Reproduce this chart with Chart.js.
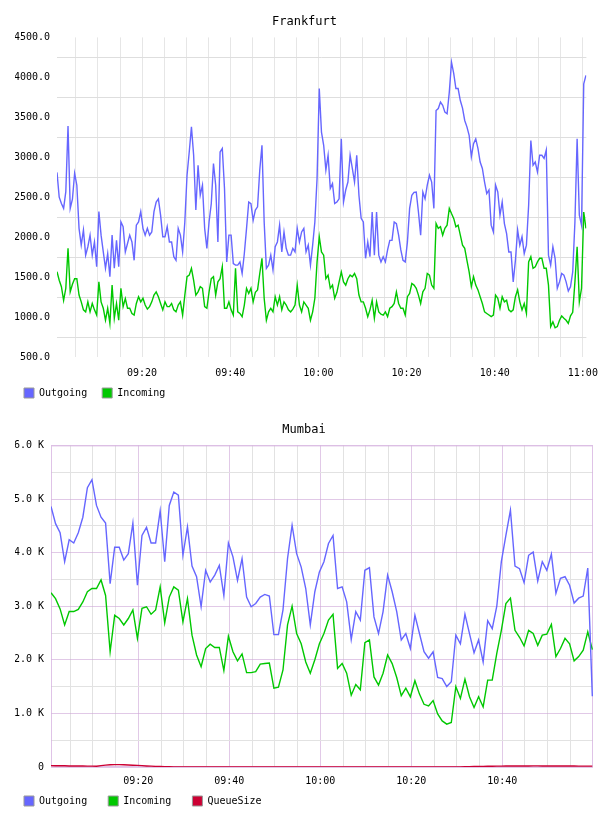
<!DOCTYPE html>
<html>
<head>
<meta charset="utf-8">
<script src="https://cdn.jsdelivr.net/npm/chart.js@4.4.0/dist/chart.umd.min.js"></script>
<style>
  html, body { margin: 0; padding: 0; background: #fff; }
  .box { width: 608px; height: 408px; }
  canvas { display: block; }
</style>
</head>
<body>
<div class="box"><canvas id="frankfurtChart" width="608" height="408"></canvas></div>
<div class="box"><canvas id="mumbaiChart" width="608" height="408"></canvas></div>
<script>
// Frankfurt: one sample every 30 s, from 09:00:42
const frankfurtOutgoing = [
  2810, 2500, 2420, 2360, 2570, 3390, 2360, 2475, 2800, 2650,
  2110, 1900, 2090, 1775, 1880, 2025, 1775, 1940, 1630, 2320,
  2025, 1815, 1610, 1795, 1505, 2025, 1610, 1960, 1630, 2190,
  2130, 1815, 1920, 2025, 1940, 1710, 2150, 2190, 2320, 2110,
  2025, 2110, 2025, 2065, 2320, 2440, 2480, 2275, 2005, 2005,
  2130, 1940, 1940, 1755, 1710, 2110, 2025, 1815, 2190, 2775,
  3065, 3380, 3025, 2340, 2900, 2525, 2650, 2110, 1860, 2190,
  2420, 2920, 2650, 1940, 3065, 3110, 2610, 1690, 2025, 2025,
  1670, 1650, 1650, 1690, 1545, 1795, 2110, 2440, 2420, 2210,
  2340, 2380, 2840, 3150, 2190, 1610, 1650, 1775, 1590, 1880,
  1940, 2150, 1815, 2065, 1860, 1775, 1775, 1860, 1815, 2110,
  1940, 2065, 2110, 1815, 1900, 1650, 1900, 2190, 2735, 3860,
  3315, 3150, 2840, 3025, 2610, 2670, 2420, 2440, 2480, 3230,
  2440, 2590, 2690, 3025, 2860, 2690, 3025, 2525, 2235, 2190,
  1735, 1940, 1755, 2315, 1775, 2315, 1775, 1690, 1755, 1690,
  1840, 1960, 1960, 2190, 2170, 2025, 1840, 1710, 1690, 1940,
  2360, 2525, 2560, 2565, 2315, 2025, 2565, 2480, 2650, 2775,
  2690, 2360, 3585, 3610, 3690, 3650, 3565, 3545, 3815, 4190,
  4050, 3860, 3860, 3710, 3615, 3460, 3380, 3275, 3005, 3170,
  3230, 3110, 2940, 2860, 2690, 2545, 2590, 2150, 2065, 2650,
  2565, 2275, 2440, 2170, 2045, 1815, 1815, 1440, 1710, 2090,
  1900, 2005, 1795, 1900, 2400, 3210, 2900, 2940, 2815, 3025,
  3025, 2985, 3090, 1775, 1650, 1880, 1735, 1360, 1440, 1545,
  1525, 1440, 1325, 1380, 1565, 2190, 3230, 2275, 2150, 3920,
  4025
]
const frankfurtIncoming = [
  1567, 1460, 1380, 1210, 1360, 1860, 1315, 1410, 1480, 1480,
  1275, 1190, 1090, 1065, 1190, 1065, 1170, 1090, 1025, 1440,
  1190, 1110, 960, 1110, 920, 1400, 985, 1170, 960, 1360,
  1130, 1230, 1110, 1110, 1045, 1025, 1170, 1255, 1190, 1235,
  1150, 1100, 1130, 1190, 1275, 1315, 1255, 1170, 1090, 1190,
  1130, 1130, 1170, 1090, 1065, 1150, 1190, 1025, 1275, 1505,
  1525, 1610, 1460, 1275, 1315, 1380, 1360, 1130, 1110, 1315,
  1480, 1505, 1275, 1440, 1480, 1630, 1110, 1110, 1190, 1090,
  1025, 1610, 1065, 1045, 1005, 1150, 1360, 1295, 1360, 1190,
  1310, 1340, 1545, 1735, 1235, 960, 1065, 1110, 1065, 1255,
  1150, 1255, 1090, 1190, 1150, 1090, 1065, 1100, 1150, 1400,
  1150, 1065, 1190, 1150, 1110, 960, 1065, 1235, 1690, 2005,
  1815, 1775, 1480, 1525, 1360, 1400, 1235, 1310, 1440, 1565,
  1440, 1400, 1480, 1525, 1505, 1545, 1480, 1275, 1190, 1190,
  1110, 1005, 1090, 1210, 985, 1190, 1065, 1035, 1025, 1065,
  1005, 1110, 1130, 1170, 1315, 1170, 1110, 1110, 1025, 1255,
  1295, 1420, 1400, 1360, 1275, 1170, 1315, 1360, 1545, 1525,
  1400, 1360, 2170, 2110, 2130, 2025, 2110, 2150, 2360, 2295,
  2235, 2130, 2150, 2025, 1900, 1860, 1710, 1565, 1380, 1505,
  1400, 1340, 1255, 1170, 1065, 1045, 1025, 1005, 1025, 1275,
  1235, 1110, 1255, 1190, 1210, 1090, 1065, 1090, 1255, 1340,
  1190, 1090, 1170, 1045, 1690, 1755, 1610, 1630, 1690, 1735,
  1735, 1610, 1610, 1400, 880, 940, 865, 880, 960, 1015,
  985, 960, 920, 1015, 1060, 1440, 1880, 1190, 1360, 2315,
  2110
]

// Mumbai: one sample per minute, from 09:00:48
const mumbaiOutgoing = [
  4860, 4540, 4370, 3830, 4240, 4180, 4370, 4660, 5210, 5360,
  4880, 4660, 4550, 3420, 4100, 4100, 3860, 3980, 4550, 3390,
  4320, 4470, 4180, 4180, 4780, 3830, 4880, 5130, 5070, 3950,
  4480, 3750, 3550, 2990, 3670, 3450, 3580, 3760, 3200, 4180,
  3920, 3480, 3890, 3170, 2990, 3050, 3170, 3220, 3190, 2470,
  2470, 2930, 3890, 4510, 3980, 3730, 3330, 2650, 3270, 3640,
  3830, 4170, 4320, 3330, 3360, 3080, 2380, 2900, 2740, 3670,
  3720, 2800, 2490, 2900, 3580, 3270, 2900, 2370, 2490, 2210,
  2830, 2490, 2150, 2030, 2150, 1670, 1650, 1500, 1590, 2460,
  2300, 2850, 2490, 2130, 2370, 1960, 2730, 2580, 3000, 3830,
  4320, 4790, 3750, 3700, 3440, 3950, 4010, 3470, 3830, 3670,
  3970, 3240, 3520, 3550, 3390, 3060, 3150, 3190, 3710, 1320
]
const mumbaiIncoming = [
  3250, 3140, 2950, 2650, 2900, 2900, 2940, 3080, 3270, 3330,
  3330, 3490, 3200, 2150, 2830, 2770, 2650, 2770, 2930, 2400,
  2960, 2990, 2850, 2930, 3360, 2690, 3170, 3360, 3300, 2710,
  3140, 2460, 2090, 1870, 2210, 2290, 2230, 2230, 1800, 2440,
  2150, 1980, 2110, 1760, 1760, 1780, 1920, 1930, 1940, 1470,
  1490, 1810, 2650, 3000, 2490, 2300, 1960, 1750, 2000, 2300,
  2490, 2740, 2850, 1840, 1930, 1750, 1340, 1540, 1440, 2320,
  2370, 1680, 1530, 1750, 2090, 1930, 1670, 1330, 1470, 1310,
  1610, 1360, 1170, 1140, 1240, 990, 860, 800, 830, 1500,
  1280, 1640, 1310, 1110, 1310, 1120, 1620, 1620, 2120, 2550,
  3050, 3150, 2550, 2420, 2260, 2550, 2490, 2270, 2460, 2480,
  2660, 2060, 2210, 2400, 2300, 1980, 2060, 2180, 2520, 2190
]
const mumbaiQueue = [
  25, 24, 22, 22, 20, 20, 18, 18, 17, 16,
  15, 25, 35, 42, 45, 45, 42, 38, 34, 30,
  25, 20, 16, 12, 9, 6, 4, 3, 2, 1,
  1, 1, 1, 0, 0, 0, 0, 0, 0, 0,
  0, 0, 1, 1, 1, 0, 0, 0, 0, 0,
  0, 0, 0, 0, 0, 0, 0, 1, 1, 1,
  1, 0, 0, 0, 0, 0, 0, 0, 0, 0,
  0, 0, 0, 0, 0, 0, 0, 0, 0, 0,
  0, 0, 0, 0, 0, 0, 0, 0, 0, 0,
  2, 4, 6, 8, 10, 12, 14, 15, 16, 17,
  18, 18, 19, 20, 20, 20, 21, 21, 20, 20,
  20, 19, 19, 18, 18, 18, 17, 17, 17, 16
]

// sample times, minutes after 09:00
const frankfurtTimes = frankfurtOutgoing.map((v, i) => 0.7 + i * 0.5)
const mumbaiTimes = mumbaiOutgoing.map((v, i) => 0.8 + i)

const BLUE = 'rgb(102,102,255)'
const GREEN = 'rgb(0,200,0)'
const RED = 'rgb(204,0,51)'
const font = { family: 'DejaVu Sans Mono', size: 10 }

function clock(m) {
  const h = 9 + Math.floor(m / 60)
  const mm = Math.round(m % 60)
  return String(h).padStart(2, '0') + ':' + String(mm).padStart(2, '0')
}

function points(times, values) {
  return values.map((v, i) => ({ x: times[i], y: v }))
}

function line(label, times, values, colour) {
  return {
    label: label,
    data: points(times, values),
    borderColor: colour,
    backgroundColor: colour,
    borderWidth: 1.4,
    pointRadius: 0,
    tension: 0,
    fill: false
  }
}

// legend padding is also the vertical gap, so the wider horizontal
// spacing of the original comes from trailing blanks on each label
function legendLabels(extra) {
  return (chart) => {
    const items = Chart.defaults.plugins.legend.labels.generateLabels(chart)
    items.forEach((it) => {
      it.strokeStyle = '#999'
      it.lineWidth = 1
      it.text = it.text + extra
    })
    return items
  }
}

function fiveMinuteTicks(scale) {
  const ticks = []
  for (let v = Math.ceil(scale.min / 5) * 5; v <= scale.max; v += 5) ticks.push({ value: v })
  scale.ticks = ticks
}

Chart.defaults.font.family = 'DejaVu Sans Mono'
Chart.defaults.color = '#000'

new Chart(document.getElementById('frankfurtChart'), {
  type: 'line',
  data: {
    datasets: [
      line('Outgoing', frankfurtTimes, frankfurtOutgoing, BLUE),
      line('Incoming', frankfurtTimes, frankfurtIncoming, GREEN)
    ]
  },
  options: {
    responsive: false,
    animation: false,
    devicePixelRatio: 1,
    layout: { padding: { left: 15, right: 14 } },
    plugins: {
      title: {
        display: true,
        text: 'Frankfurt',
        color: '#000',
        font: { family: 'DejaVu Sans Mono', size: 12, weight: 'normal' },
        padding: { top: 15, bottom: 8 }
      },
      legend: {
        position: 'bottom',
        align: 'start',
        labels: { boxWidth: 10, boxHeight: 10, padding: 9, font: font, color: '#000', generateLabels: legendLabels(' ') }
      },
      tooltip: { enabled: false }
    },
    scales: {
      x: {
        type: 'linear',
        min: frankfurtTimes[0],
        max: 120.8,
        afterBuildTicks: fiveMinuteTicks,
        afterFit: (s) => { s.height = 22 },
        border: { display: false },
        grid: { drawTicks: false, color: '#e6e6e6' },
        ticks: {
          autoSkip: false, maxRotation: 0, padding: 10, font: font,
          callback: (v) => v % 20 === 0 ? clock(v) : ''
        }
      },
      y: {
        min: 500,
        max: 4500,
        afterFit: (s) => { s.width = 42 },
        border: { display: false },
        grid: {
          drawTicks: false,
          color: (ctx) => ctx.tick && ctx.tick.value % 500 !== 0 ? '#dedede' : 'rgba(0,0,0,0)'
        },
        ticks: {
          stepSize: 250, autoSkip: false, padding: 7, font: font,
          callback: (v) => v % 500 === 0 ? v.toFixed(1) : ''
        }
      }
    }
  }
})

const plotFrame = {
  id: 'plotFrame',
  beforeDatasetsDraw(chart) {
    const { ctx, chartArea: a } = chart
    ctx.save()
    ctx.strokeStyle = 'rgba(215,180,225,0.8)'
    ctx.lineWidth = 1
    ctx.strokeRect(a.left + 0.5, a.top + 0.5, a.width - 1, a.height - 1)
    ctx.restore()
  }
}

const MAJOR = 'rgba(205,165,215,0.6)'
const MINOR = '#e2e2e2'

new Chart(document.getElementById('mumbaiChart'), {
  type: 'line',
  data: {
    datasets: [
      line('Outgoing', mumbaiTimes, mumbaiOutgoing, BLUE),
      line('Incoming', mumbaiTimes, mumbaiIncoming, GREEN),
      line('QueueSize', mumbaiTimes, mumbaiQueue, RED)
    ]
  },
  plugins: [plotFrame],
  options: {
    responsive: false,
    animation: false,
    devicePixelRatio: 1,
    layout: { padding: { left: 15, right: 15 } },
    plugins: {
      title: {
        display: true,
        text: 'Mumbai',
        color: '#000',
        font: { family: 'DejaVu Sans Mono', size: 12, weight: 'normal' },
        padding: { top: 15, bottom: 8 }
      },
      legend: {
        position: 'bottom',
        align: 'start',
        labels: { boxWidth: 10, boxHeight: 10, padding: 9, font: font, color: '#000', generateLabels: legendLabels('  ') }
      },
      tooltip: { enabled: false }
    },
    scales: {
      x: {
        type: 'linear',
        min: mumbaiTimes[0],
        max: 119.95,
        afterBuildTicks: fiveMinuteTicks,
        afterFit: (s) => { s.height = 20 },
        border: { display: false },
        grid: {
          drawTicks: false,
          color: (ctx) => ctx.tick && ctx.tick.value % 20 === 0 ? MAJOR : MINOR
        },
        ticks: {
          autoSkip: false, maxRotation: 0, padding: 8, font: font,
          callback: (v) => v % 20 === 0 ? clock(v) : ''
        }
      },
      y: {
        min: 0,
        max: 6000,
        afterFit: (s) => { s.width = 36 },
        border: { display: false },
        grid: {
          drawTicks: false,
          color: (ctx) => ctx.tick && ctx.tick.value % 1000 === 0 ? MAJOR : MINOR
        },
        ticks: {
          stepSize: 500, autoSkip: false, padding: 7, font: font,
          callback: (v) => v % 1000 !== 0 ? '' : (v === 0 ? '0' : (v / 1000).toFixed(1) + ' K')
        }
      }
    }
  }
})
</script>
</body>
</html>
